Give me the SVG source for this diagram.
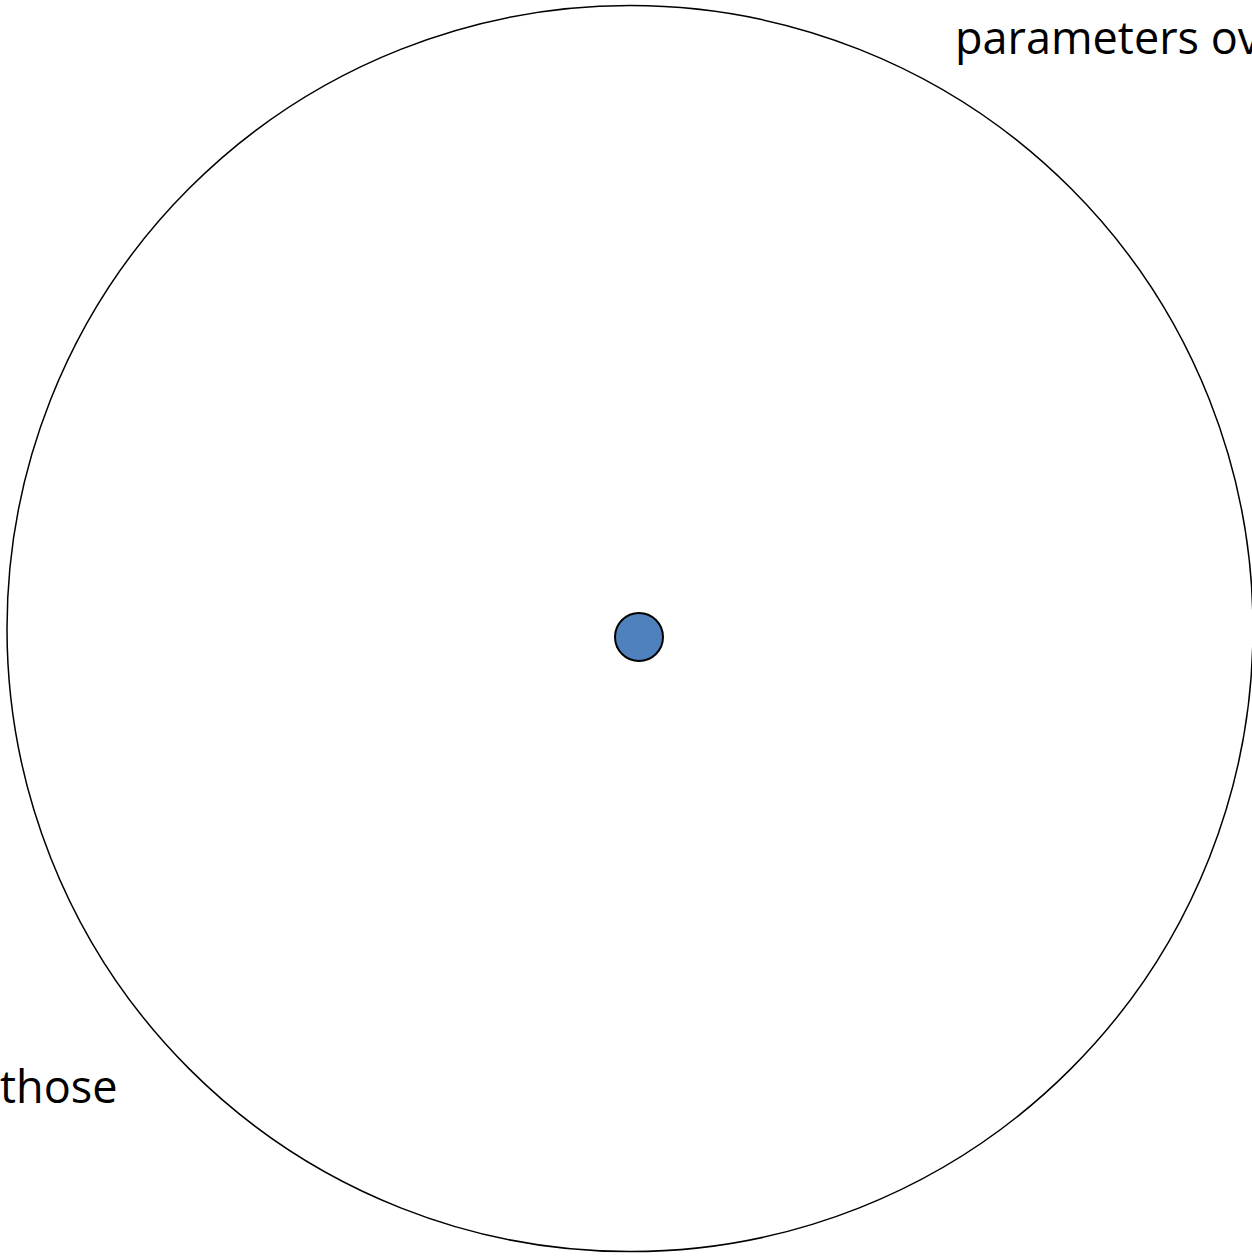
<svg xmlns="http://www.w3.org/2000/svg" width="1252" height="1256" viewBox="0 0 1252 1256">
<style>
.lbl{font-family:"Open Sans","Liberation Sans",sans-serif;font-size:45px;fill:#000}
</style>
<rect width="1252" height="1256" fill="#fff"/>
<g id="outer"><circle cx="630" cy="628.6" r="623" fill="none" stroke="#000" stroke-width="1.5"/></g>
<g id="center"><circle cx="639" cy="637" r="24" fill="#4F81BD" stroke="#000" stroke-width="2"/></g>
<g id="connectors"></g>
<text class="lbl" x="955" y="54">parameters ov</text>
<text class="lbl" x="0" y="1103">those</text>
</svg>
